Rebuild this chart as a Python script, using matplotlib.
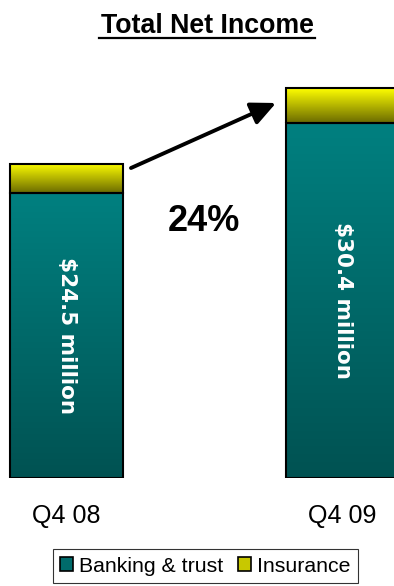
import numpy as np
import matplotlib
matplotlib.use("Agg")
import matplotlib.pyplot as plt
from matplotlib.colors import LinearSegmentedColormap
from matplotlib.patches import Patch
from matplotlib.lines import Line2D

# ---- data ----
categories = ["Q4 08", "Q4 09"]
banking = [22.2, 27.7]
insurance = [2.3, 2.7]
total_labels = ["$24.5 million", "$30.4 million"]
growth_label = "24%"
series_names = ["Banking & trust", "Insurance"]
title = "Total Net Income"

W, H = 394, 586
fig = plt.figure(figsize=(W / 100, H / 100), dpi=100)

def fx(px):
    return px / W

def fy(py):
    return 1 - py / H

# axes: baseline at y=478px, bar centres at 66.5px and 342.5px
base_px = 478
top_px = 60
px_per_unit = 314 / 24.5
ax = fig.add_axes([0, (H - base_px) / H, 1, (base_px - top_px) / H])
ax.set_axis_off()

x = np.arange(len(categories))
width = 0.409
bars_b = ax.bar(x, banking, width=width, facecolor="none", edgecolor="black",
                linewidth=1.5, zorder=3)
bars_i = ax.bar(x, insurance, bottom=banking, width=width, facecolor="none",
                edgecolor="black", linewidth=1.5, zorder=3)

teal_cmap = LinearSegmentedColormap.from_list("teal", ["#005252", "#008080"])
yel_cmap = LinearSegmentedColormap.from_list("yel", ["#6a6a00", "#ffff00"])
grad = np.linspace(0, 1, 256).reshape(-1, 1)

for bars, cmap in ((bars_b, teal_cmap), (bars_i, yel_cmap)):
    for p in bars:
        x0, y0 = p.get_x(), p.get_y()
        w, h = p.get_width(), p.get_height()
        im = ax.imshow(grad, extent=(x0, x0 + w, y0, y0 + h), origin="lower",
                       cmap=cmap, aspect="auto", zorder=2, interpolation="bilinear")
        im.set_clip_path(p)

left_unit = 66.5
unit_px = 276
ax.set_xlim(-left_unit / unit_px, (W - left_unit) / unit_px)
ax.set_ylim(0, (base_px - top_px) / px_per_unit)

# rotated value labels inside the banking bars
for xi, b, lab in zip(x, banking, total_labels):
    ax.text(xi, b / 2, lab.replace("$", r"\$"), rotation=-90, ha="center",
            va="center", color="white", fontsize=15.5, fontweight="bold",
            family="DejaVu Sans", zorder=4)

# category labels
for xi, c in zip(x, categories):
    ax.text(xi, -(523 - base_px) / (base_px - top_px), c,
            transform=ax.get_xaxis_transform(), ha="center",
            va="baseline", fontsize=18, family="Liberation Sans", clip_on=False)

# title with underline
fig.text(fx(207), fy(33), title, ha="center", va="baseline", fontsize=19.3,
         fontweight="bold", family="Liberation Sans")
fig.add_artist(Line2D([fx(99), fx(315)], [fy(38), fy(38)], color="black",
                      linewidth=1.6, transform=fig.transFigure))

# growth label and arrow
fig.text(fx(203.5), fy(231), growth_label, ha="center", va="baseline",
         fontsize=26, fontweight="bold", family="Liberation Sans")
fig.add_artist(matplotlib.patches.FancyArrowPatch(
    (fx(131), fy(168)), (fx(276), fy(103)), transform=fig.transFigure,
    arrowstyle="-|>,head_length=15,head_width=7", linewidth=2.8,
    color="black", mutation_scale=1, shrinkA=0, shrinkB=0))

# legend
handles = [Patch(facecolor="#006b6b", edgecolor="black", linewidth=1.2),
           Patch(facecolor="#c8c800", edgecolor="black", linewidth=1.2)]
leg = fig.legend(handles, series_names, loc="center",
                 bbox_to_anchor=(fx(205.5), fy(566)), ncol=2,
                 prop={"family": "Liberation Sans", "size": 15.3},
                 handlelength=0.6, handleheight=0.6, handletextpad=0.3,
                 columnspacing=0.7, borderpad=0.35, borderaxespad=0,
                 frameon=True, fancybox=False)
leg.get_frame().set_edgecolor("black")
leg.get_frame().set_linewidth(0.8)

fig.savefig("out.png", dpi=100)
